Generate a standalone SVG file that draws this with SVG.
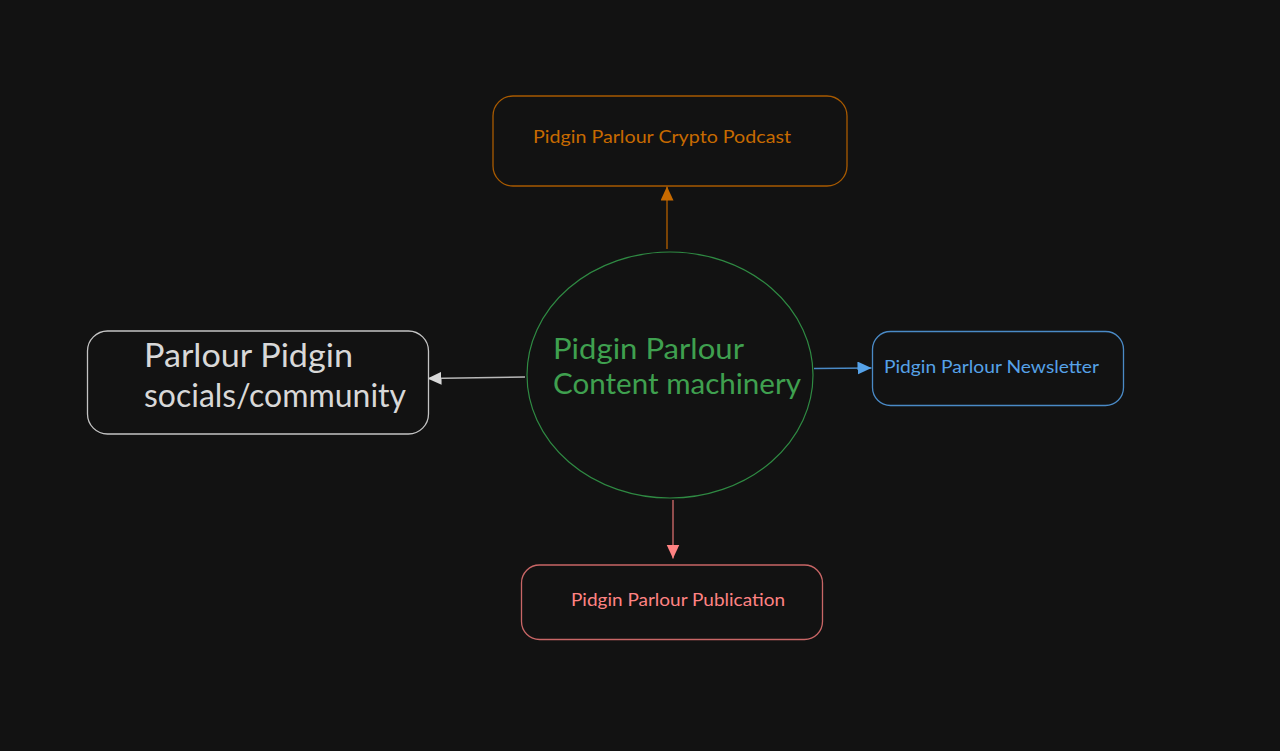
<svg xmlns="http://www.w3.org/2000/svg" width="1280" height="751" viewBox="0 0 1280 751">
<style>
text{font-family:"Lato","Open Sans","Liberation Sans",sans-serif;white-space:pre}
.b{fill:#121212;stroke-width:1.3}
.c{fill:none;stroke-width:1.4}
.s{font-size:18px}
</style>
<defs>
<marker id="ao" markerUnits="userSpaceOnUse" markerWidth="16" markerHeight="14" refX="14" refY="6.500" orient="auto"><path d="M0,0L14,6.500L0,13Z" fill="#c76a00"/></marker>
<marker id="aw" markerUnits="userSpaceOnUse" markerWidth="16" markerHeight="14" refX="14" refY="6.500" orient="auto"><path d="M0,0L14,6.500L0,13Z" fill="#d8d8d8"/></marker>
<marker id="ab" markerUnits="userSpaceOnUse" markerWidth="16" markerHeight="14" refX="14" refY="6.500" orient="auto"><path d="M0,0L14,6.500L0,13Z" fill="#56a2e8"/></marker>
<marker id="ar" markerUnits="userSpaceOnUse" markerWidth="16" markerHeight="14" refX="14" refY="6.500" orient="auto"><path d="M0,0L14,6.500L0,13Z" fill="#ff8383"/></marker>
</defs>
<rect width="1280" height="751" fill="#121212"/>
<g id="connectors">
<path class="c" d="M667 249L667 186.500" stroke="#a85a00" marker-end="url(#ao)"/>
<path class="c" d="M525 377L427.500 378.500" stroke="#b8b8b8" marker-end="url(#aw)"/>
<path class="c" d="M814 368.500L871.500 368" stroke="#4a8ac6" marker-end="url(#ab)"/>
<path class="c" d="M673 500L673 558.500" stroke="#c86666" marker-end="url(#ar)"/>
</g>
<g id="node-podcast">
<rect class="b" x="493" y="96" width="354" height="90" rx="20" stroke="#a85a00"/>
<text class="s" x="533" y="143" fill="#c76a00" textLength="258" lengthAdjust="spacingAndGlyphs">Pidgin Parlour Crypto Podcast</text>
</g>
<g id="node-socials">
<rect class="b" x="87.500" y="331" width="341" height="103" rx="20" stroke="#c4c4c4"/>
<text x="144" y="367" font-size="32" fill="#d8d8d8" textLength="209" lengthAdjust="spacingAndGlyphs">Parlour Pidgin</text>
<text x="144" y="407" font-size="32" fill="#d8d8d8" textLength="262" lengthAdjust="spacingAndGlyphs">socials/community</text>
</g>
<g id="node-machinery">
<ellipse cx="670" cy="375" rx="143" ry="123" fill="#121212" stroke="#2f8a43" stroke-width="1.200"/>
<text x="553" y="359" font-size="29" fill="#3fa04f" textLength="191" lengthAdjust="spacingAndGlyphs">Pidgin Parlour</text>
<text x="553" y="394" font-size="29" fill="#3fa04f" textLength="248" lengthAdjust="spacingAndGlyphs">Content machinery</text>
</g>
<g id="node-newsletter">
<rect class="b" x="872.500" y="331.500" width="251" height="74" rx="18" stroke="#4a8ac6"/>
<text class="s" x="884" y="373" fill="#56a2e8" textLength="215" lengthAdjust="spacingAndGlyphs">Pidgin Parlour Newsletter</text>
</g>
<g id="node-publication">
<rect class="b" x="521.500" y="565" width="301" height="74.500" rx="18" stroke="#c86666"/>
<text class="s" x="571" y="606" fill="#ff8383" textLength="214" lengthAdjust="spacingAndGlyphs">Pidgin Parlour Publication</text>
</g>
</svg>
